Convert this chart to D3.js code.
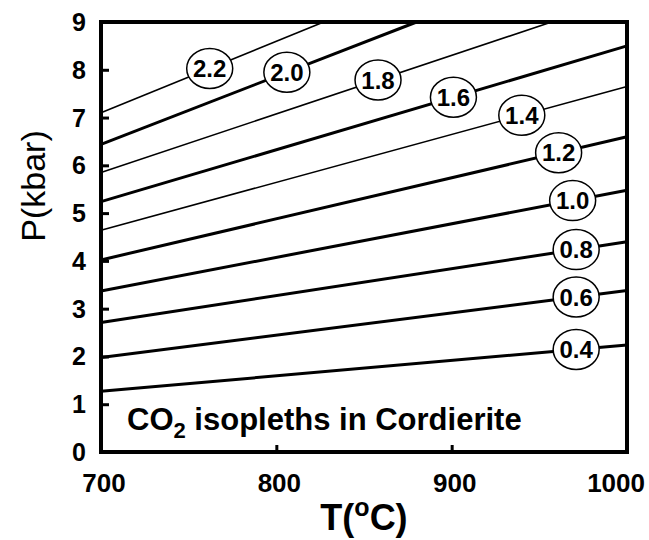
<!DOCTYPE html>
<html>
<head>
<meta charset="utf-8">
<script src="https://cdn.jsdelivr.net/npm/d3@7"></script>
<style>
    body { margin: 0; background: #fff; }
    text { font-family: "Liberation Sans", Arial, sans-serif; fill: #000; }
</style>
</head>
<body>
<div id="chart"></div>
<script>
// CO2 content of cordierite, isopleths in P-T space
var isopleths = ["0.4", "0.6", "0.8", "1.0", "1.2", "1.4", "1.6", "1.8", "2.0", "2.2"];
var tStart = [700, 700, 700, 700, 700, 700, 700, 700, 700, 700];
var pStart = [1.27, 1.98, 2.71, 3.37, 4.02, 4.64, 5.24, 5.85, 6.44, 7.10];
var tEnd = [1000, 1000, 1000, 1000, 1000, 1000, 1000, 957, 880, 827];
var pEnd = [2.24, 3.38, 4.40, 5.48, 6.60, 7.65, 8.50, 9.0, 9.0, 9.0];
var labelT = [971, 971, 971, 969, 961, 940, 901, 858, 806, 762];
var xTicks = [700, 800, 900, 1000];
var yTicks = [0, 1, 2, 3, 4, 5, 6, 7, 8, 9];

var width = 649;
var height = 540;
var margin = { 'top': 22, 'right': 22, 'bottom': 88, 'left': 101 };
var thin = ["1.4", "1.8", "2.2"];

var x = d3.scaleLinear().domain([700, 1000]).range([margin.left, width - margin.right]);
var y = d3.scaleLinear().domain([0, 9]).range([height - margin.bottom, margin.top]);

var svg = d3.select('#chart').append('svg')
    .attr('width', width)
    .attr('height', height);

var lines = isopleths.map(function (d, i) {
    return {
        'label': d,
        'p0': [tStart[i], pStart[i]],
        'p1': [tEnd[i], pEnd[i]],
        'lt': labelT[i]
    };
});

// isopleth lines
svg.selectAll('.iso')
    .data(lines)
    .enter().append('line')
    .attr('class', 'iso')
    .attr('x1', function (d) { return x(d.p0[0]); })
    .attr('y1', function (d) { return y(d.p0[1]); })
    .attr('x2', function (d) { return x(d.p1[0]); })
    .attr('y2', function (d) { return y(d.p1[1]); })
    .attr('stroke', '#000')
    .attr('stroke-width', function (d) { return thin.indexOf(d.label) >= 0 ? 1.6 : 3; });

// frame + inward ticks
var xAxis = d3.axisTop(x).tickValues([800, 900]).tickSize(7).tickFormat('');
var yAxis = d3.axisRight(y).tickValues(d3.range(1, 9)).tickSize(8).tickFormat('');

svg.append('g')
    .attr('transform', 'translate(0,' + y(0) + ')')
    .call(xAxis)
    .call(function (g) { g.select('.domain').remove(); })
    .selectAll('line').attr('stroke-width', 3);

svg.append('g')
    .attr('transform', 'translate(' + x(700) + ',0)')
    .call(yAxis)
    .call(function (g) { g.select('.domain').remove(); })
    .selectAll('line').attr('stroke-width', 3);

svg.append('rect')
    .attr('x', x(700))
    .attr('y', y(9))
    .attr('width', x(1000) - x(700))
    .attr('height', y(0) - y(9))
    .attr('fill', 'none')
    .attr('stroke', '#000')
    .attr('stroke-width', 4);

// tick labels (last one pulled in so it stays on the page)
svg.selectAll('.xlab')
    .data(xTicks)
    .enter().append('text')
    .attr('class', 'xlab')
    .attr('x', function (d, i) { return i === xTicks.length - 1 ? x(d) + 18 : x(d) + 3; })
    .attr('y', y(0) + 40)
    .attr('text-anchor', function (d, i) { return i === xTicks.length - 1 ? 'end' : 'middle'; })
    .attr('font-weight', 'bold')
    .attr('font-size', 26)
    .text(function (d) { return d; });

svg.selectAll('.ylab')
    .data(yTicks)
    .enter().append('text')
    .attr('class', 'ylab')
    .attr('x', x(700) - 15)
    .attr('y', function (d) { return y(d); })
    .attr('dy', '0.36em')
    .attr('text-anchor', 'end')
    .attr('font-weight', 'bold')
    .attr('font-size', 25)
    .text(function (d) { return d; });

// isopleth labels
var tags = svg.selectAll('.tag')
    .data(lines)
    .enter().append('g')
    .attr('class', 'tag')
    .attr('transform', function (d) {
        var f = (d.lt - d.p0[0]) / (d.p1[0] - d.p0[0]);
        var p = d.p0[1] + f * (d.p1[1] - d.p0[1]);
        return 'translate(' + x(d.lt) + ',' + y(p) + ')';
    });

tags.append('ellipse')
    .attr('rx', 23)
    .attr('ry', 20)
    .attr('fill', '#fff')
    .attr('stroke', '#000')
    .attr('stroke-width', 1.5);

tags.append('text')
    .attr('text-anchor', 'middle')
    .attr('dy', '0.36em')
    .attr('font-weight', 'bold')
    .attr('font-size', 24)
    .text(function (d) { return d.label; });

// axis titles
svg.append('text')
    .attr('transform', 'translate(45,' + 186 + ') rotate(-90)')
    .attr('text-anchor', 'middle')
    .attr('font-size', 34)
    .text('P(kbar)');

var tt = svg.append('text')
    .attr('x', x(850))
    .attr('y', 530)
    .attr('text-anchor', 'middle')
    .attr('font-weight', 'bold')
    .attr('font-size', 36);
tt.append('tspan').text('T(');
tt.append('tspan').attr('dy', -14).attr('font-size', 25).text('o');
tt.append('tspan').attr('dy', 14).text('C)');

var title = svg.append('text')
    .attr('x', 127)
    .attr('y', 430)
    .attr('font-weight', 'bold')
    .attr('font-size', 31);
title.append('tspan').text('CO');
title.append('tspan').attr('dy', 8).attr('font-size', 22).text('2');
title.append('tspan').attr('dy', -8).text(' isopleths in Cordierite');
</script>
</body>
</html>
